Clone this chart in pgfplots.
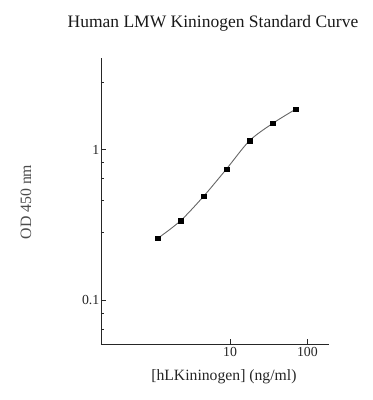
\documentclass[border=0pt]{standalone}
\usepackage{pgfplots}
\pgfplotsset{compat=1.18}
\usepackage{fontspec}
\setmainfont{Liberation Serif}
\begin{document}
\begin{tikzpicture}
\useasboundingbox (0,0) rectangle (373bp,400bp);
\begin{axis}[
  at={(101bp,55.7bp)}, anchor=south west,
  scale only axis, width=228bp, height=286bp,
  xmode=log, ymode=log,
  xmin=0.214, xmax=190, ymin=0.0508, ymax=4.04,
  axis lines*=left, axis line style={-, line width=0.9bp, black!85},
  tick align=inside, major tick length=5bp, minor tick length=3bp,
  tick style={line width=0.7bp, black!85},
  xtick={10,100}, xticklabels={10,100}, xminorticks=false,
  ytick={0.1,1}, yticklabels={0.1,1},
  minor ytick={0.064,0.082,0.28,0.46,0.64,0.82,2.8},
  /pgf/number format/assume math mode=true,
  ticklabel style={font=\fontsize{13.8bp}{15bp}\selectfont, text=black!85},
  yticklabel style={inner sep=1.5bp},
  xticklabel style={inner sep=2.5bp},
  title={Human LMW Kininogen Standard Curve},
  title style={at={(axis description cs:0.491,1.103)}, anchor=center, font=\fontsize{17.5bp}{19bp}\selectfont, text=black!90},
  xlabel={[hLKininogen] (ng/ml)},
  xlabel style={at={(axis description cs:0.539,-0.113)}, anchor=center, font=\fontsize{15.7bp}{17bp}\selectfont, text=black!85},
  ylabel={OD 450 nm},
  ylabel style={at={(axis description cs:-0.329,0.4975)}, anchor=center, font=\fontsize{15.8bp}{17bp}\selectfont, text=black!70},
  clip=false,
]
\addplot[smooth, black!60, line width=0.9bp] coordinates {
(1.16,0.257) (2.28,0.336) (4.57,0.491) (8.96,0.742) (17.8,1.144) (35.6,1.493) (70.8,1.858)};
\addplot[only marks, mark=square*, mark size=2.3bp, black] coordinates {
(1.16,0.257) (2.28,0.336) (4.57,0.491) (8.96,0.742) (17.8,1.144) (35.6,1.493) (70.8,1.858)};
\end{axis}
\end{tikzpicture}
\end{document}
